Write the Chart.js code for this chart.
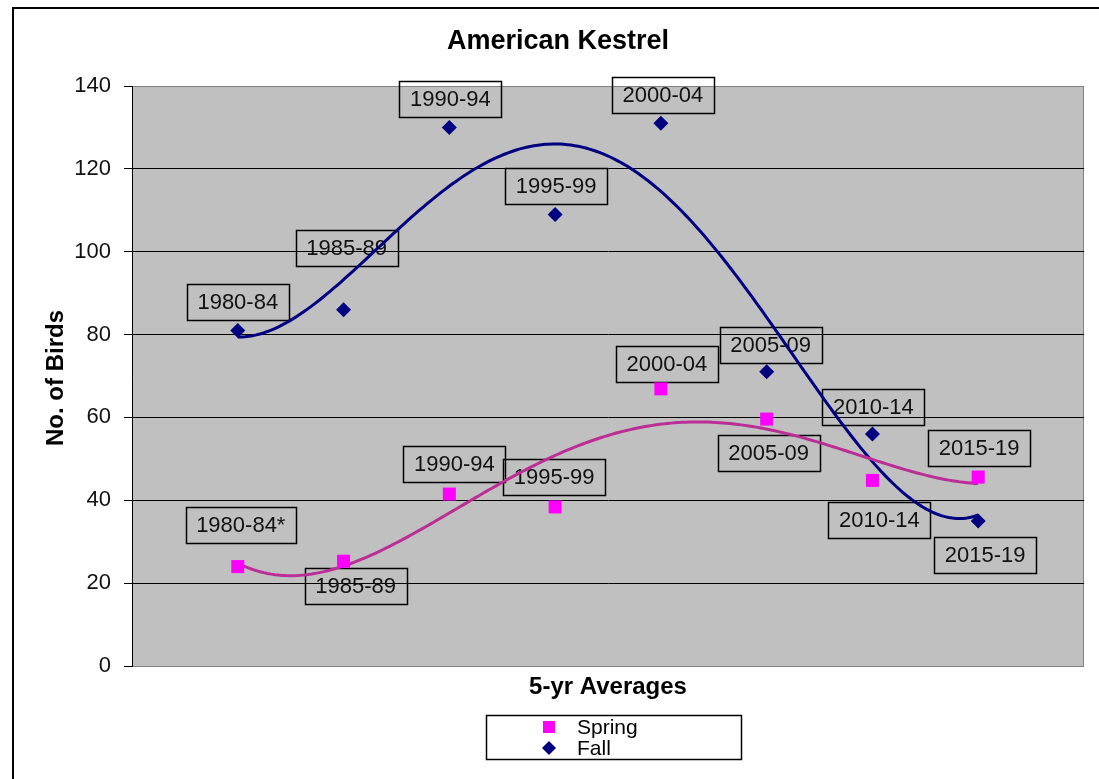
<!DOCTYPE html>
<html>
<head>
<meta charset="utf-8">
<title>American Kestrel</title>
<script src="https://cdn.jsdelivr.net/npm/chart.js@4.4.1/dist/chart.umd.min.js"></script>
<style>
  html, body { margin: 0; padding: 0; background: #fff; }
  canvas { display: block; }
</style>
</head>
<body>
<canvas id="kestrel" width="1099" height="779"></canvas>
<script>
// ---- data: 5-year averages of American Kestrel counts ----
const periodPositions = [1, 2, 3, 4, 5, 6, 7, 8];
const springLabels = ['1980-84*', '1985-89', '1990-94', '1995-99', '2000-04', '2005-09', '2010-14', '2015-19'];
const fallLabels   = ['1980-84', '1985-89', '1990-94', '1995-99', '2000-04', '2005-09', '2010-14', '2015-19'];
const springValues = [24, 25.3, 41.5, 38.4, 66.9, 59.6, 44.8, 45.6];
const fallValues   = [81, 86, 130, 109, 131, 71, 56, 35];
const yTickValues  = [0, 20, 40, 60, 80, 100, 120, 140];
const trendOrder = 4;

// ---- label box placement (pixel offsets from each marker) ----
const springLabelOffsets = [[3, -42], [12, 25], [5, -30], [-1, -30], [6, -25], [2, 34], [7, 40], [1, -29]];
const fallLabelOffsets   = [[0, -28], [3, -62], [1, -28], [1, -28], [2, -28], [4, -27], [1, -27], [7, 34]];

const FONT = "'Liberation Sans', Arial, sans-serif";
const SPRING_COLOR = '#FF00FF';
const FALL_COLOR = '#000080';
const SPRING_TREND = '#BA2E96';
const FALL_TREND = '#000080';

// least-squares polynomial fit, returns coefficients c0..cN
function polyFit(xs, ys, deg) {
  const n = deg + 1;
  const A = Array.from({ length: n }, () => new Array(n + 1).fill(0));
  for (let i = 0; i < xs.length; i++) {
    for (let r = 0; r < n; r++) {
      for (let c = 0; c < n; c++) A[r][c] += Math.pow(xs[i], r + c);
      A[r][n] += ys[i] * Math.pow(xs[i], r);
    }
  }
  for (let col = 0; col < n; col++) {
    let piv = col;
    for (let r = col + 1; r < n; r++) if (Math.abs(A[r][col]) > Math.abs(A[piv][col])) piv = r;
    const tmp = A[col]; A[col] = A[piv]; A[piv] = tmp;
    for (let r = 0; r < n; r++) {
      if (r === col) continue;
      const f = A[r][col] / A[col][col];
      for (let c = col; c <= n; c++) A[r][c] -= f * A[col][c];
    }
  }
  return A.map((row, i) => row[n] / row[i]);
}
function trendPoints(xs, ys, deg) {
  const coef = polyFit(xs, ys, deg);
  const out = [];
  const x0 = xs[0], x1 = xs[xs.length - 1];
  const steps = 200;
  for (let k = 0; k <= steps; k++) {
    const x = x0 + (x1 - x0) * k / steps;
    let y = 0;
    for (let p = coef.length - 1; p >= 0; p--) y = y * x + coef[p];
    out.push({ x, y });
  }
  return out;
}
const toXY = (xs, ys) => xs.map((x, i) => ({ x, y: ys[i] }));

// plot background, outer frame, title, axis titles and legend
const framePlugin = {
  id: 'frame',
  beforeDraw(chart) {
    const { ctx, chartArea: a } = chart;
    ctx.save();
    ctx.fillStyle = '#fff';
    ctx.fillRect(0, 0, chart.width, chart.height);
    ctx.fillStyle = '#C0C0C0';
    ctx.fillRect(a.left, a.top, a.right - a.left, a.bottom - a.top);
    ctx.strokeStyle = '#808080';
    ctx.lineWidth = 1;
    ctx.strokeRect(a.left + 0.5, a.top + 0.5, a.right - a.left - 1, a.bottom - a.top);
    ctx.strokeStyle = '#000';
    ctx.lineWidth = 2;
    ctx.strokeRect(13, 8, chart.width + 20, chart.height + 20);
    ctx.restore();
  },
  afterDraw(chart) {
    const { ctx } = chart;
    ctx.save();
    ctx.fillStyle = '#000';
    ctx.textAlign = 'center';
    ctx.textBaseline = 'middle';
    ctx.font = `bold 27px ${FONT}`;
    ctx.fillText('American Kestrel', 558, 42);
    ctx.font = `bold 24px ${FONT}`;
    ctx.fillText('5-yr Averages', 608, 687);
    ctx.translate(56, 378);
    ctx.rotate(-Math.PI / 2);
    ctx.fillText('No. of Birds', 0, 0);
    ctx.restore();

    // legend
    const lx = 486, ly = 715, lw = 255, lh = 44;
    ctx.save();
    ctx.fillStyle = '#fff';
    ctx.fillRect(lx, ly, lw, lh);
    ctx.strokeStyle = '#000';
    ctx.lineWidth = 1.5;
    ctx.strokeRect(lx + 0.5, ly + 0.5, lw, lh);
    const items = [chart.data.datasets[0], chart.data.datasets[1]];
    const rows = [727, 748];
    items.forEach((ds, i) => {
      ctx.fillStyle = ds.backgroundColor;
      ctx.beginPath();
      if (ds.pointStyle === 'rect') {
        ctx.rect(549 - 6, rows[i] - 6, 12, 12);
      } else {
        ctx.moveTo(549, rows[i] - 7); ctx.lineTo(556, rows[i]);
        ctx.lineTo(549, rows[i] + 7); ctx.lineTo(542, rows[i]);
        ctx.closePath();
      }
      ctx.fill();
      ctx.fillStyle = '#000';
      ctx.font = `21px ${FONT}`;
      ctx.textAlign = 'left';
      ctx.textBaseline = 'middle';
      ctx.fillText(ds.label, 577, rows[i] + 1);
    });
    ctx.restore();
  }
};

// boxed period labels beside each marker
const periodLabelPlugin = {
  id: 'periodLabels',
  beforeDatasetsDraw(chart) {
    const { ctx } = chart;
    const sets = [
      { meta: chart.getDatasetMeta(0), texts: springLabels, offs: springLabelOffsets },
      { meta: chart.getDatasetMeta(1), texts: fallLabels, offs: fallLabelOffsets }
    ];
    ctx.save();
    ctx.font = `22px ${FONT}`;
    ctx.textAlign = 'center';
    ctx.textBaseline = 'middle';
    sets.forEach(s => {
      s.meta.data.forEach((pt, i) => {
        const cx = pt.x + s.offs[i][0];
        const cy = pt.y + s.offs[i][1];
        const w = Math.round(ctx.measureText(s.texts[i]).width + 21);
        const h = 36;
        const x = Math.round(cx - w / 2) + 0.5, y = Math.round(cy - h / 2) + 0.5;
        if (y < chart.chartArea.top) {
          ctx.fillStyle = '#fff';
          ctx.fillRect(x, y, w, chart.chartArea.top - y);
        }
        ctx.strokeStyle = '#000';
        ctx.lineWidth = 1.5;
        ctx.strokeRect(x, y, w, h);
        ctx.fillStyle = '#111';
        ctx.fillText(s.texts[i], cx, cy + 1);
      });
    });
    ctx.restore();
  }
};

new Chart(document.getElementById('kestrel'), {
  type: 'scatter',
  data: {
    datasets: [
      {
        label: 'Spring',
        data: toXY(periodPositions, springValues),
        pointStyle: 'rect',
        pointRadius: 9.2,
        backgroundColor: SPRING_COLOR,
        borderWidth: 0,
        order: 0
      },
      {
        label: 'Fall',
        data: toXY(periodPositions, fallValues),
        pointStyle: 'rectRot',
        pointRadius: 7.5,
        backgroundColor: FALL_COLOR,
        borderWidth: 0,
        order: 0
      },
      {
        label: 'Spring trend',
        data: trendPoints(periodPositions, springValues, trendOrder),
        showLine: true,
        borderColor: SPRING_TREND,
        borderWidth: 3,
        pointRadius: 0,
        tension: 0,
        fill: false,
        order: 1
      },
      {
        label: 'Fall trend',
        data: trendPoints(periodPositions, fallValues, trendOrder),
        showLine: true,
        borderColor: FALL_TREND,
        borderWidth: 3,
        pointRadius: 0,
        tension: 0,
        fill: false,
        order: 1
      }
    ]
  },
  options: {
    responsive: false,
    animation: false,
    layout: { padding: { top: 86, right: 15, bottom: 113, left: 0 } },
    plugins: {
      legend: { display: false },
      title: { display: false },
      tooltip: { enabled: false }
    },
    scales: {
      x: { type: 'linear', min: 0, max: 9, display: false },
      y: {
        min: 0,
        max: 140,
        afterBuildTicks: s => { s.ticks = yTickValues.map(v => ({ value: v })); },
        afterFit: s => { s.width = 132; },
        ticks: { color: '#111', font: { family: FONT, size: 22 }, padding: 13 },
        grid: {
          color: c => (c.tick && (c.tick.value === 140 || c.tick.value === 0)) ? '#808080' : '#000',
          tickColor: '#000',
          tickLength: 8,
          lineWidth: 1
        },
        border: { color: '#000', width: 1 }
      }
    }
  },
  plugins: [framePlugin, periodLabelPlugin]
});
</script>
</body>
</html>
